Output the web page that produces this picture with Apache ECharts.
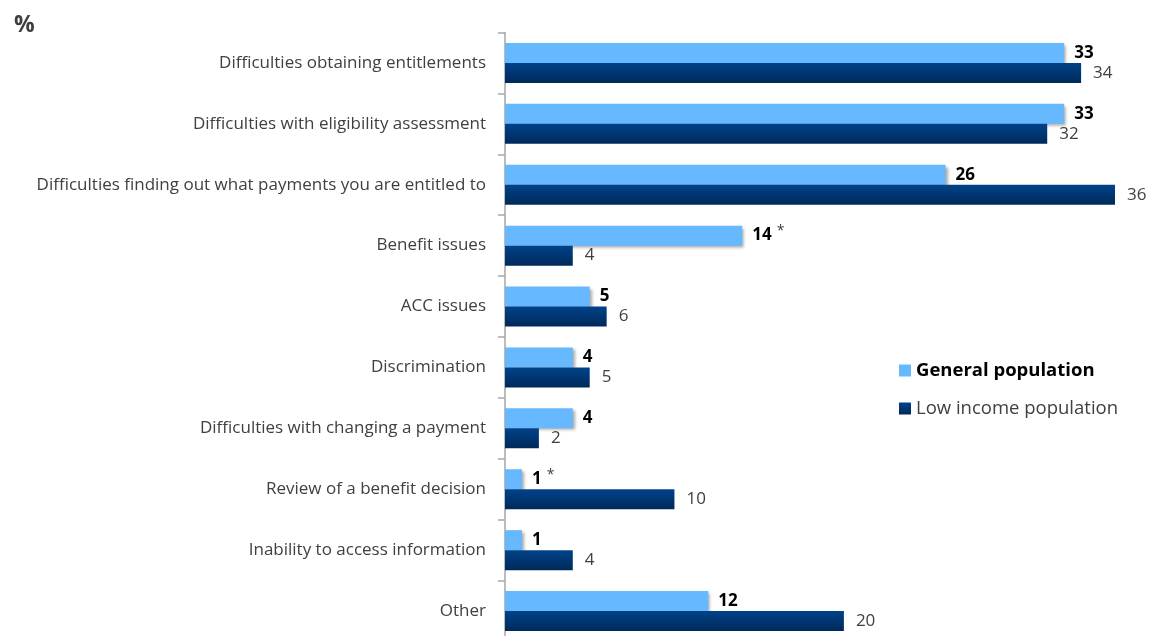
<!DOCTYPE html>
<html>
<head>
<meta charset="utf-8">
<script src="https://cdn.jsdelivr.net/npm/echarts@6/dist/echarts.min.js"></script>
<style>
  html, body { margin: 0; padding: 0; background: #fff; overflow: hidden; }
  #chart { width: 1155px; height: 642px; }
</style>
</head>
<body>
<div id="chart"></div>
<script>
// Problem categories, top to bottom
const categories = [
  'Difficulties obtaining entitlements',
  'Difficulties with eligibility assessment',
  'Difficulties finding out what payments you are entitled to',
  'Benefit issues',
  'ACC issues',
  'Discrimination',
  'Difficulties with changing a payment',
  'Review of a benefit decision',
  'Inability to access information',
  'Other'
];
// Percentages per population group
const generalPopulation = [33, 33, 26, 14, 5, 4, 4, 1, 1, 12];
const lowIncomePopulation = [34, 32, 36, 4, 6, 5, 2, 10, 4, 20];
// Categories where the general population figure is flagged with an asterisk
const flaggedGeneral = [false, false, false, true, false, false, false, true, false, false];
const seriesNames = ['General population', 'Low income population'];

const FONT = '"Open Sans", "Noto Sans", sans-serif';

const chart = echarts.init(document.getElementById('chart'), null, { renderer: 'canvas' });

chart.setOption({
  animation: false,
  backgroundColor: '#ffffff',
  title: {
    text: '%',
    left: 9,
    top: 9,
    textStyle: { fontFamily: FONT, fontSize: 23, fontWeight: 'bold', color: '#404040' }
  },
  legend: {
    orient: 'vertical',
    left: 899,
    top: 361,
    padding: 0,
    itemWidth: 12,
    itemHeight: 12,
    itemGap: 19,
    icon: 'rect',
    data: [
      { name: seriesNames[0], textStyle: { fontWeight: 'bold', color: '#000000' } },
      { name: seriesNames[1], textStyle: { fontWeight: 'normal', color: '#404040' } }
    ],
    textStyle: { fontFamily: FONT, fontSize: 18.5 }
  },
  grid: { left: 505, right: 40, top: 32.5, bottom: 0.5, containLabel: false },
  xAxis: {
    type: 'value',
    min: 0,
    max: 36,
    show: false
  },
  yAxis: {
    type: 'category',
    data: categories,
    inverse: true,
    axisLine: { show: true, lineStyle: { color: '#a6a6a6', width: 1.5 } },
    axisTick: { show: true, length: 7, lineStyle: { color: '#a6a6a6', width: 1.5 } },
    axisLabel: {
      margin: 19,
      fontFamily: FONT,
      fontSize: 17,
      color: '#404040'
    }
  },
  series: [
    {
      name: seriesNames[0],
      type: 'bar',
      data: generalPopulation,
      barWidth: 20,
      barGap: '0%',
      itemStyle: {
        color: '#66b8ff',
        shadowColor: 'rgba(0,0,0,0.35)',
        shadowBlur: 3,
        shadowOffsetX: 2,
        shadowOffsetY: 2
      },
      label: {
        show: true,
        position: 'right',
        distance: 10,
        formatter: (p) => flaggedGeneral[p.dataIndex] ? '{v|' + p.value + '}{s|*}' : '{v|' + p.value + '}',
        rich: {
          v: { fontFamily: FONT, fontSize: 17, fontWeight: 'bold', color: '#000000' },
          s: { fontFamily: FONT, fontSize: 14, color: '#404040', padding: [0, 0, 9, 5] }
        }
      }
    },
    {
      name: seriesNames[1],
      type: 'bar',
      data: lowIncomePopulation,
      barWidth: 20,
      barGap: '0%',
      itemStyle: {
        color: new echarts.graphic.LinearGradient(0, 0, 0, 1, [
          { offset: 0, color: '#00438a' },
          { offset: 1, color: '#00295a' }
        ])
      },
      label: {
        show: true,
        position: 'right',
        distance: 12,
        fontFamily: FONT,
        fontSize: 17,
        color: '#404040'
      }
    }
  ]
});
</script>
</body>
</html>
